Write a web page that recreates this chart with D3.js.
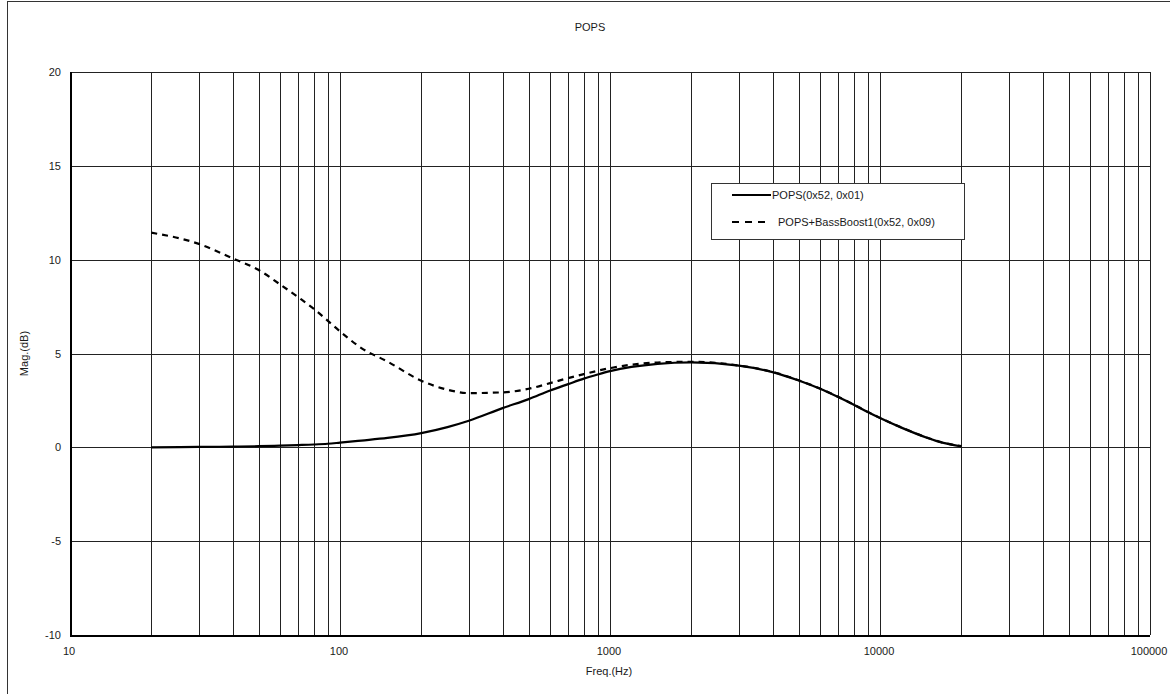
<!DOCTYPE html>
<html>
<head>
<meta charset="utf-8">
<script src="https://cdn.jsdelivr.net/npm/d3@7"></script>
<style>
  html, body { margin: 0; padding: 0; background: #fff; }
  svg { display: block; }
  text { font-family: "Liberation Sans", Arial, sans-serif; fill: #1a1a1a; }
</style>
</head>
<body>
<svg id="chart" width="1170" height="694"></svg>
<script>
const chartTitle = "POPS";
const xLabel = "Freq.(Hz)";
const yLabel = "Mag.(dB)";
const seriesNames = ["POPS(0x52, 0x01)", "POPS+BassBoost1(0x52, 0x09)"];
const xTickLabels = [10, 100, 1000, 10000, 100000];
const yTickLabels = [-10, -5, 0, 5, 10, 15, 20];

const freqs = [20, 30, 40, 50, 60, 70, 80, 90, 100, 120, 150, 200, 250, 300, 400, 500, 600, 700, 800, 900,
  1000, 1500, 2000, 3000, 4000, 5000, 6000, 7000, 8000, 9000, 10000, 12000, 15000, 17000, 20000];
const popsValues = [0.00, 0.02, 0.04, 0.06, 0.09, 0.12, 0.15, 0.19, 0.25, 0.36, 0.50, 0.76, 1.08, 1.42, 2.09, 2.57, 3.03, 3.37, 3.66, 3.88,
  4.06, 4.45, 4.53, 4.35, 4.01, 3.56, 3.12, 2.68, 2.27, 1.88, 1.56, 1.05, 0.50, 0.25, 0.05];
const bassValues = [11.44, 10.84, 10.07, 9.45, 8.68, 8.00, 7.38, 6.75, 6.18, 5.29, 4.57, 3.55, 3.07, 2.89, 2.93, 3.12, 3.42, 3.69, 3.90, 4.08,
  4.22, 4.52, 4.56, 4.36, 4.02, 3.57, 3.13, 2.69, 2.28, 1.89, 1.57, 1.06, 0.51, 0.26, 0.06];

(function () {
const svg = d3.select("#chart");
const pL = 70, pR = 1150, pT = 72, pB = 635;

const x = d3.scaleLog().domain([10, 100000]).range([pL, pR]);
const y = d3.scaleLinear().domain([-10, 20]).range([pB, pT]);

// outer frame
svg.append("rect").attr("x", 7.5).attr("y", 1.5).attr("width", 1200).attr("height", 800)
  .attr("fill", "none").attr("stroke", "#333").attr("stroke-width", 1);

// vertical grid (log minor + major)
const g = svg.append("g").attr("shape-rendering", "crispEdges");
g.selectAll("line.vx").data(x.ticks()).join("line")
  .attr("class", "vx")
  .attr("x1", d => Math.round(x(d)) + 0.5).attr("x2", d => Math.round(x(d)) + 0.5)
  .attr("y1", pT).attr("y2", pB)
  .attr("stroke", "#222").attr("stroke-width", 1);
// horizontal grid
g.selectAll("line.hy").data(yTickLabels).join("line")
  .attr("class", "hy")
  .attr("x1", pL).attr("x2", pR)
  .attr("y1", d => Math.round(y(d)) + 0.5).attr("y2", d => Math.round(y(d)) + 0.5)
  .attr("stroke", "#222").attr("stroke-width", 1);

// axes lines
g.append("line").attr("x1", pL + 0.5).attr("x2", pL + 0.5).attr("y1", pT).attr("y2", pB + 1)
  .attr("stroke", "#000").attr("stroke-width", 2);
g.append("line").attr("x1", pL).attr("x2", pR).attr("y1", pB + 0.5).attr("y2", pB + 0.5)
  .attr("stroke", "#000").attr("stroke-width", 2);

// y tick labels
svg.append("g").selectAll("text").data(yTickLabels).join("text")
  .attr("x", 61).attr("y", d => y(d) + 4)
  .attr("text-anchor", "end").attr("font-size", 11)
  .text(d => d);

// x tick labels
svg.append("g").selectAll("text").data(xTickLabels).join("text")
  .attr("x", d => x(d) - 1).attr("y", 655)
  .attr("text-anchor", "middle").attr("font-size", 11)
  .text(d => d);

// title and axis labels
svg.append("text").attr("x", 590).attr("y", 31).attr("text-anchor", "middle").attr("font-size", 11).text(chartTitle);
svg.append("text").attr("x", 609).attr("y", 675).attr("text-anchor", "middle").attr("font-size", 11).text(xLabel);
svg.append("text").attr("transform", `translate(28, ${(pT + pB) / 2}) rotate(-90)`)
  .attr("text-anchor", "middle").attr("font-size", 11).text(yLabel);

// curves
const line = d3.line().x(d => x(d[0])).y(d => y(d[1])).curve(d3.curveMonotoneX);
const popsData = freqs.map((f, i) => [f, popsValues[i]]);
const bassData = freqs.map((f, i) => [f, bassValues[i]]);

svg.append("path").datum(bassData).attr("d", line)
  .attr("fill", "none").attr("stroke", "#000").attr("stroke-width", 2.2)
  .attr("stroke-dasharray", "6,5");
svg.append("path").datum(popsData).attr("d", line)
  .attr("fill", "none").attr("stroke", "#000").attr("stroke-width", 2.2);

// legend
const lg = svg.append("g");
lg.append("rect").attr("x", 711.5).attr("y", 183.5).attr("width", 253).attr("height", 56)
  .attr("fill", "#fff").attr("stroke", "#333").attr("stroke-width", 1);
lg.append("line").attr("x1", 732).attr("x2", 771).attr("y1", 195).attr("y2", 195)
  .attr("stroke", "#000").attr("stroke-width", 2.2);
lg.append("line").attr("x1", 732).attr("x2", 770).attr("y1", 222).attr("y2", 222)
  .attr("stroke", "#000").attr("stroke-width", 2.2).attr("stroke-dasharray", "7,6");
lg.append("text").attr("x", 772).attr("y", 199).attr("font-size", 11).text(seriesNames[0]);
lg.append("text").attr("x", 778).attr("y", 226).attr("font-size", 11).text(seriesNames[1]);
})();
</script>
</body>
</html>
